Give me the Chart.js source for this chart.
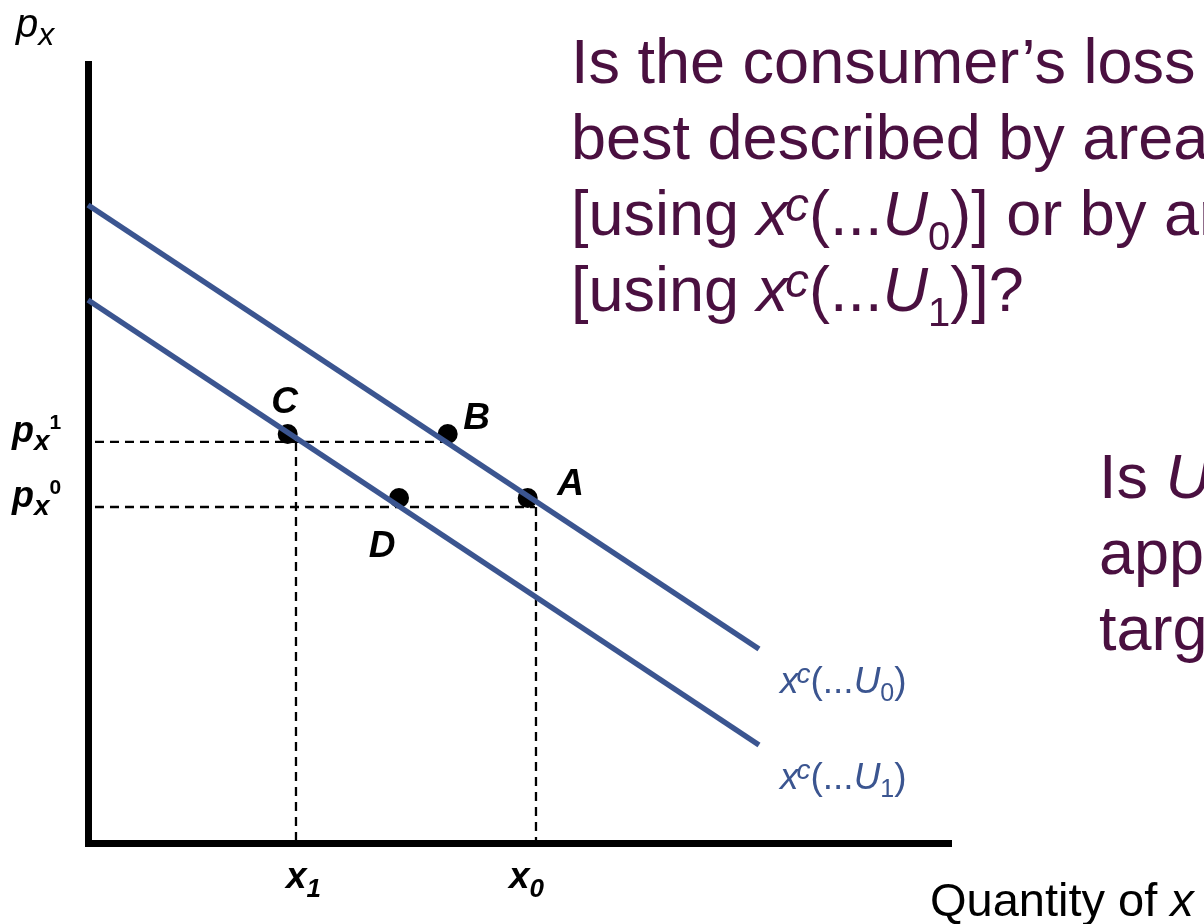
<!DOCTYPE html>
<html><head><meta charset="utf-8">
<script src="https://cdn.jsdelivr.net/npm/chart.js@4/dist/chart.umd.min.js"></script>
<style>html,body{margin:0;padding:0;background:#fff;overflow:hidden}#wrap{width:1204px;height:924px;position:relative}</style>
</head><body><div id="wrap"><canvas id="c" width="1204" height="924"></canvas></div>
<script>
// ---- data (axis units: 0..100 on both axes) ----
const upperCurveX = [0, 77.75];          // x^c(...U0)
const upperCurveY = [81.90, 24.90];
const lowerCurveX = [0, 77.75];          // x^c(...U1)
const lowerCurveY = [69.70, 12.58];
const pointNames = ['C', 'B', 'D', 'A'];
const pointX = [23.14, 41.68, 36.04, 50.95];
const pointY = [52.50, 52.50, 44.29, 44.29];
const priceLevels = [51.48, 43.13];      // p_x^1, p_x^0
const priceTags = ['1', '0'];
const priceDashEnd = [41.60, 51.80];
const qtyLevels = [24.10, 51.91];        // x_1, x_0
const qtyTags = ['1', '0'];
const dashStartX = 0.81;
const curveTags = ['0', '1'];

const FF = "'Liberation Sans', Arial, sans-serif";
const TXT = '#4a1040';
const BLUE = '#3b5590';

function seg(x1, y1, x2, y2) { return [{x: x1, y: y1}, {x: x2, y: y2}]; }
const dashStyle = {borderColor: '#000', borderWidth: 2.3, borderDash: [9, 6], pointRadius: 0, showLine: true, clip: false};

const datasets = [
  {data: upperCurveX.map((x, i) => ({x, y: upperCurveY[i]})), borderColor: BLUE, borderWidth: 5.5, pointRadius: 0, showLine: true, clip: false},
  {data: lowerCurveX.map((x, i) => ({x, y: lowerCurveY[i]})), borderColor: BLUE, borderWidth: 5.5, pointRadius: 0, showLine: true, clip: false},
  Object.assign({data: seg(dashStartX, priceLevels[0], priceDashEnd[0], priceLevels[0])}, dashStyle),
  Object.assign({data: seg(dashStartX, priceLevels[1], priceDashEnd[1], priceLevels[1])}, dashStyle),
  Object.assign({data: seg(qtyLevels[0], priceLevels[0], qtyLevels[0], 0)}, dashStyle),
  Object.assign({data: seg(qtyLevels[1], priceLevels[1], qtyLevels[1], 0)}, dashStyle),
  {data: pointX.map((x, i) => ({x, y: pointY[i]})), showLine: false, pointRadius: 10, pointBackgroundColor: '#000', pointBorderWidth: 0, clip: false}
];

function rich(ctx, x, y, runs, color) {
  let cx = x;
  for (const r of runs) {
    ctx.font = r.f;
    ctx.fillStyle = r.c || color;
    ctx.fillText(r.t, cx, y + (r.dy || 0));
    cx += ctx.measureText(r.t).width + (r.k || 0);
  }
  return cx;
}

// label offsets (pixels) relative to the marks
const pointLabelOffset = {C: [-3, -21], B: [29, -5], D: [-17, 59], A: [43, -3]};

const textPlugin = {
  id: 'texts',
  afterDraw(chart) {
    const ctx = chart.ctx;
    const xs = chart.scales.x, ys = chart.scales.y;
    ctx.save();
    ctx.textBaseline = 'alphabetic';

    // point labels
    ctx.textAlign = 'center';
    ctx.font = `italic bold 37px ${FF}`;
    ctx.fillStyle = '#000';
    pointNames.forEach((n, i) => {
      const o = pointLabelOffset[n];
      ctx.fillText(n, xs.getPixelForValue(pointX[i]) + o[0], ys.getPixelForValue(pointY[i]) + o[1]);
    });
    ctx.textAlign = 'left';

    // price labels p_x^1, p_x^0
    priceLevels.forEach((v, i) => {
      const py = ys.getPixelForValue(v);
      rich(ctx, 12, py, [
        {t: 'p', f: `italic bold 36px ${FF}`},
        {t: 'x', f: `italic bold 28px ${FF}`, dy: 8},
        {t: priceTags[i], f: `bold 21px ${FF}`, dy: -13}
      ], '#000');
    });

    // quantity labels x_1, x_0
    const qOff = [-10, -27];
    qtyLevels.forEach((v, i) => {
      const px = xs.getPixelForValue(v);
      rich(ctx, px + qOff[i], 888, [
        {t: 'x', f: `italic bold 37px ${FF}`},
        {t: qtyTags[i], f: `italic bold 26px ${FF}`, dy: 9}
      ], '#000');
    });

    // axis titles
    rich(ctx, 16, 37, [
      {t: 'p', f: `italic 40px ${FF}`},
      {t: 'x', f: `italic 32px ${FF}`, dy: 8}
    ], '#000');
    rich(ctx, 930, 916, [
      {t: 'Quantity of ', f: `47px ${FF}`},
      {t: 'x', f: `italic 47px ${FF}`}
    ], '#000');

    // curve labels
    const curveEndY = [upperCurveY[1], lowerCurveY[1]];
    curveTags.forEach((t, i) => {
      const px = xs.getPixelForValue(upperCurveX[1]) + 21;
      const py = ys.getPixelForValue(curveEndY[i]) + 44;
      rich(ctx, px, py, [
        {t: 'x', f: `italic 37px ${FF}`, k: -2},
        {t: 'c', f: `italic 28px ${FF}`, dy: -10},
        {t: '(...', f: `37px ${FF}`},
        {t: 'U', f: `italic 37px ${FF}`},
        {t: t, f: `25px ${FF}`, dy: 8},
        {t: ')', f: `37px ${FF}`}
      ], BLUE);
    });

    // question text
    const R = `63px ${FF}`, I = `italic 63px ${FF}`, SUP = `italic 48px ${FF}`, SUB = `40px ${FF}`;
    const qx = 571;
    rich(ctx, qx, 83, [{t: 'Is the consumer\u2019s loss', f: R}], TXT);
    rich(ctx, qx, 159, [{t: 'best described by area', f: R}], TXT);
    rich(ctx, qx, 235, [
      {t: '[using ', f: R}, {t: 'x', f: I, k: -3}, {t: 'c', f: SUP, dy: -14},
      {t: '(...', f: R}, {t: 'U', f: I}, {t: '0', f: SUB, dy: 15}, {t: ')] or by area', f: R}
    ], TXT);
    rich(ctx, qx, 311, [
      {t: '[using ', f: R}, {t: 'x', f: I, k: -3}, {t: 'c', f: SUP, dy: -14},
      {t: '(...', f: R}, {t: 'U', f: I}, {t: '1', f: SUB, dy: 15}, {t: ')]?', f: R}
    ], TXT);

    const q2 = 1099;
    rich(ctx, q2, 498, [{t: 'Is ', f: R}, {t: 'U', f: I}, {t: '0', f: SUB, dy: 15}, {t: ' the', f: R}], TXT);
    rich(ctx, q2, 574, [{t: 'appropriate', f: R}], TXT);
    rich(ctx, q2, 650, [{t: 'target', f: R}], TXT);
    ctx.restore();
  }
};

new Chart(document.getElementById('c'), {
  type: 'scatter',
  data: {datasets},
  options: {
    responsive: false,
    animation: false,
    devicePixelRatio: 1,
    layout: {padding: {left: 88, right: 253, top: 64, bottom: 81}},
    plugins: {legend: {display: false}, tooltip: {enabled: false}},
    elements: {line: {tension: 0}},
    scales: {
      x: {type: 'linear', min: 0, max: 100, grid: {display: false, drawTicks: false}, ticks: {display: false},
          border: {display: true, color: '#000', width: 7}},
      y: {type: 'linear', min: 0, max: 100, grid: {display: false, drawTicks: false}, ticks: {display: false},
          border: {display: true, color: '#000', width: 7}}
    }
  },
  plugins: [textPlugin]
});
</script>
</body></html>
